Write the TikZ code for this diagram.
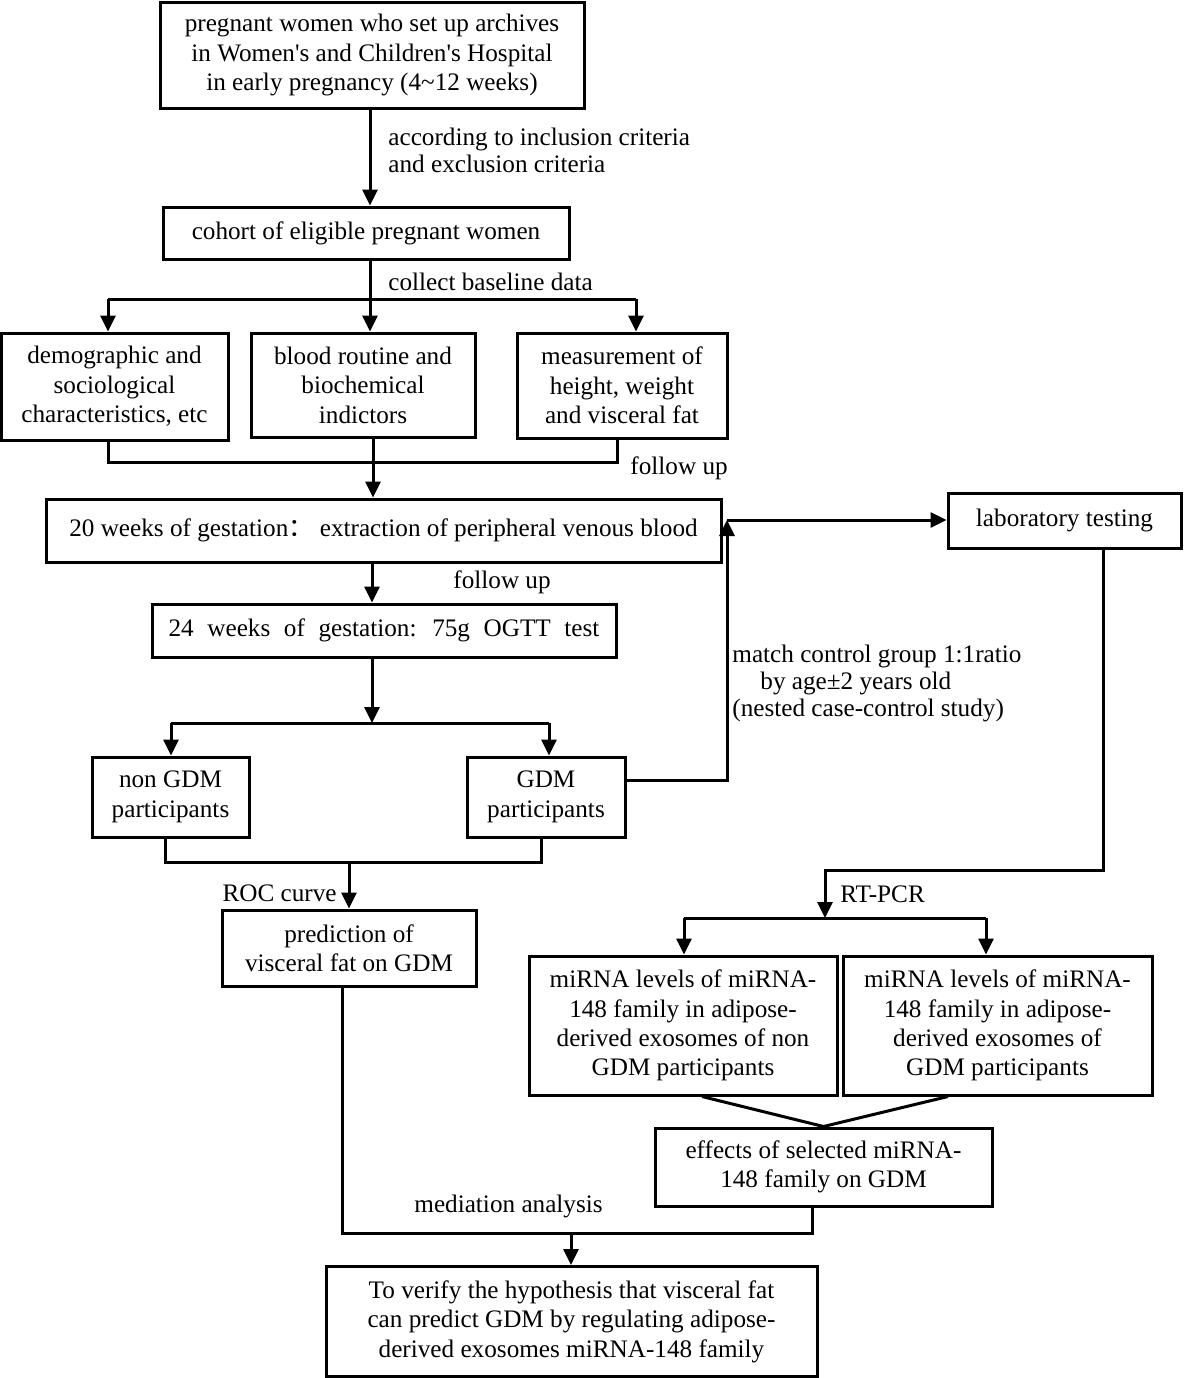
\documentclass[tikz,border=0pt]{standalone}
\usepackage{fontspec}
\setmainfont{Liberation Serif}
\newfontfamily\cjk{Noto Sans CJK SC}
\usepackage{tikz}
\usetikzlibrary{arrows.meta}
\tikzstyle{box}=[draw,line width=1.5pt,align=center,inner sep=0pt,font=\fontsize{12.6}{14.7}\selectfont]
\tikzstyle{note}=[align=left,inner sep=0pt,font=\fontsize{12.6}{13.5}\selectfont]
\tikzstyle{link}=[draw,line width=1.5pt]
\tikzstyle{edge}=[draw,line width=1.5pt,-{Triangle[length=8pt,width=7.5pt]}]

\begin{document}
\begin{tikzpicture}[x=0.5pt,y=-0.5pt]
  \useasboundingbox (0,0) rectangle (1184,1378);
  \node[box,minimum width=212pt,minimum height=53pt] (women) at (372,55) {pregnant women who set up archives\\in Women\textquotesingle s and Children\textquotesingle s Hospital\\in early pregnancy (4\textasciitilde12 weeks)};
  \node[box,minimum width=203pt,minimum height=26pt] (cohort) at (366,233) {cohort of eligible pregnant women};
  \node[box,minimum width=113.5pt,minimum height=53.5pt] (demo) at (114.5,386.5) {demographic and\\sociological\\characteristics, etc};
  \node[box,minimum width=112pt,minimum height=52pt] (blood) at (363,385) {blood routine and\\biochemical\\indictors};
  \node[box,minimum width=105pt,minimum height=52.5pt] (meas) at (622,385.5) {measurement of\\height, weight\\and visceral fat};
  \node[box,minimum width=337.5pt,minimum height=31.5pt] (twenty) at (383.5,530.5) {20 weeks of gestation{\cjk ：} extraction of peripheral venous blood};
  \node[box,minimum width=116.5pt,minimum height=27.5pt] (lab) at (1064.5,520.5) {laboratory testing};
  \node[box,minimum width=232pt,minimum height=26.5pt] (tfour) at (384,630.5) {\spaceskip=6.8pt 24 weeks of gestation: 75g OGTT test};
  \node[box,minimum width=78.5pt,minimum height=40pt] (nongdm) at (170.5,797) {non GDM\\participants};
  \node[box,minimum width=79pt,minimum height=40pt] (gdm) at (546,797) {GDM\\participants};
  \node[box,minimum width=127pt,minimum height=38pt] (pred) at (349,948) {prediction of\\visceral fat on GDM};
  \node[box,minimum width=154pt,minimum height=69.5pt] (mirA) at (683,1025.5) {miRNA levels of miRNA-\\148 family in adipose-\\derived exosomes of non\\GDM participants};
  \node[box,minimum width=154.5pt,minimum height=69.5pt] (mirB) at (997.5,1025.5) {miRNA levels of miRNA-\\148 family in adipose-\\derived exosomes of\\GDM participants};
  \node[box,minimum width=168.5pt,minimum height=39pt] (effects) at (823.5,1167) {effects of selected miRNA-\\148 family on GDM};
  \node[box,minimum width=245.5pt,minimum height=55pt] (final) at (571.5,1321.5) {To verify the hypothesis that visceral fat\\can predict GDM by regulating adipose-\\derived exosomes miRNA-148 family};

  \node[note,anchor=west] (crit) at (388,150) {according to inclusion criteria\\and exclusion criteria};
  \node[note,anchor=west] (base) at (388,282) {collect baseline data};
  \node[note,anchor=west] (followA) at (630,468) {follow up};
  \node[note,anchor=west] (followB) at (453,582) {follow up};
  \node[note,anchor=west] (match) at (732,683) {match control group 1:1ratio\\\hspace*{14pt}by age±2 years old\\(nested case-control study)};
  \node[note,anchor=east] (roc) at (337,893) {ROC curve};
  \node[note,anchor=west] (rtpcr) at (840,894) {RT-PCR};
  \node[note,anchor=west] (medi) at (414,1206) {mediation analysis};

  \coordinate (split1) at (370,299);
  \coordinate (sL) at (108,299);
  \coordinate (sR) at (636,299);
  \coordinate (jL) at (108,462);
  \coordinate (jR) at (617,462);
  \coordinate (join1) at (373,462);
  \coordinate (split2) at (372,723);
  \coordinate (s2L) at (171,723);
  \coordinate (s2R) at (549,723);
  \coordinate (j2L) at (165,862);
  \coordinate (j2R) at (541,862);
  \coordinate (join2) at (349,862);
  \coordinate (up) at (727,520);
  \coordinate (turn) at (1103,870);
  \coordinate (split3) at (825,918);
  \coordinate (s3L) at (684,918);
  \coordinate (s3R) at (986,918);
  \coordinate (j3L) at (342,1233);
  \coordinate (j3R) at (812,1233);
  \coordinate (join3) at (571,1233);

  \draw[edge] (women.south -| split1) -- (split1 |- cohort.north);
  \draw[link] (split1 |- cohort.south) -- (split1);
  \draw[link] (sL) -- (sR);
  \draw[edge] (sL) -- (sL |- demo.north);
  \draw[edge] (split1) -- (split1 |- blood.north);
  \draw[edge] (sR) -- (sR |- meas.north);
  \draw[link] (jL |- demo.south) -- (jL) -- (jR) -- (jR |- meas.south);
  \draw[link] (join1 |- blood.south) -- (join1);
  \draw[edge] (join1) -- (join1 |- twenty.north);
  \draw[edge] (split2 |- twenty.south) -- (split2 |- tfour.north);
  \draw[edge] (split2 |- tfour.south) -- (split2);
  \draw[link] (s2L) -- (s2R);
  \draw[edge] (s2L) -- (s2L |- nongdm.north);
  \draw[edge] (s2R) -- (s2R |- gdm.north);
  \draw[link] (j2L |- nongdm.south) -- (j2L) -- (j2R) -- (j2R |- gdm.south);
  \draw[edge] (join2) -- (join2 |- pred.north);
  \draw[edge] ([yshift=8.5pt]gdm.east) -| (up);
  \draw[edge] (up) -- (up -| lab.west);
  \draw[edge] (turn |- lab.south) -- (turn) -| (split3);
  \draw[link] (s3L) -- (s3R);
  \draw[edge] (s3L) -- (s3L |- mirA.north);
  \draw[edge] (s3R) -- (s3R |- mirB.north);
  \draw[link] ([xshift=9.5pt]mirA.south) -- (effects.north) -- ([xshift=-24.75pt]mirB.south);
  \draw[link] (j3L |- pred.south) -- (j3L) -- (j3R) -- (j3R |- effects.south);
  \draw[edge] (join3) -- (join3 |- final.north);
\end{tikzpicture}
\end{document}
